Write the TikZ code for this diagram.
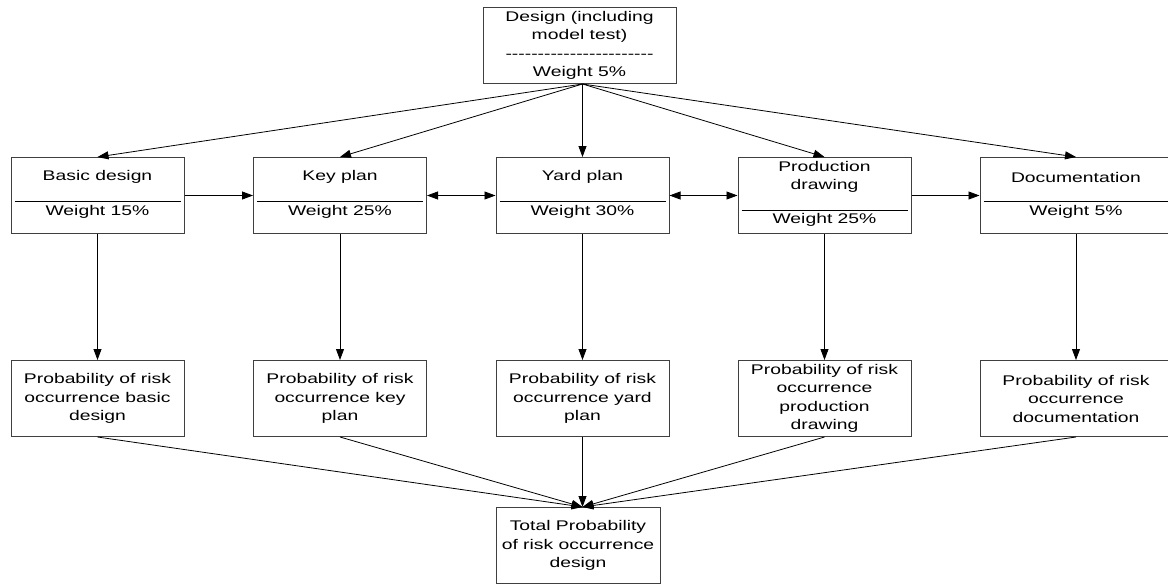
\documentclass[tikz,border=0pt]{standalone}
\usepackage{fontspec}
\setmainfont{Liberation Sans}[FakeStretch=1.38]
\usetikzlibrary{arrows.meta}

\begin{document}
\begin{tikzpicture}[x=1pt,y=-1pt,
        font=\fontsize{14}{18.5}\selectfont,
        >={Triangle[length=11pt,width=8pt]},
        stage/.style={rectangle, draw=black!75, line width=1pt,
                        inner sep=0pt, minimum width=173pt, minimum height=76pt},
        link/.style={->, line width=0.8pt}]
    \useasboundingbox (0,0) rectangle (1168,584);
    % top box
    \node[stage, minimum width=193pt, align=center] (des) at (579.5,45.5)
        {Design (including\\model test)\\-{}-{}-{}-{}-{}-{}-{}-{}-{}-{}-{}-{}-{}-{}-{}-{}-{}-{}-{}-{}-{}-{}-{}\\Weight 5\%};
    % stages with weight
    \foreach \n/\x/\w/\t/\p/\s/\v in {
            bd/97.5/173/{Basic design}/{Weight 15\%}/201/212,
            kp/340/173/{Key plan}/{Weight 25\%}/201/212,
            yp/582.5/173/{Yard plan}/{Weight 30\%}/201/212,
            pd/824.5/173/{Production\\drawing}/{Weight 25\%}/210/220,
            dc/1076/192/{Documentation}/{Weight 5\%}/201/212}{
        \node[stage, minimum width=\w pt] (\n) at (\x,195.5) {};
        \node[align=center, inner sep=0pt] (\n-t) at (\x,177) {\t};
        \node[inner sep=0pt] (\n-w) at (\x,\v) {\p};
        \draw[line width=0.8pt] ([xshift=4pt]\n.west |- 0,\s) -- ([xshift=-4pt]\n.east |- 0,\s);
    }
    % probability boxes
    \node[stage, align=center] (pbd) at (97.5,398.5)
        {Probability of risk\\occurrence basic\\design};
    \node[stage, align=center] (pkp) at (340,398.5)
        {Probability of risk\\occurrence key\\plan};
    \node[stage, align=center] (pyp) at (582.5,398.5)
        {Probability of risk\\occurrence yard\\plan};
    \node[stage, align=center] (ppd) at (824.5,398.5)
        {Probability of risk\\occurrence\\production\\drawing};
    \node[stage, minimum width=192pt, align=center] (pdc) at (1076,398.5)
        {Probability of risk\\occurrence\\documentation};
    \node[stage, minimum width=164pt, align=center] (tot) at (578,545.5)
        {Total Probability\\of risk occurrence\\design};
    \coordinate (hub-top) at (des.south -| yp.north);
    \coordinate (hub-bot) at (tot.north -| pyp.south);
    % connectors
    \foreach \n in {bd,kp,yp,pd,dc}{
        \draw[link] (hub-top) -- (\n.north);
        \draw[link] (\n.south) -- (p\n.north);
        \draw[link] (p\n.south) -- (hub-bot);
    }
    \draw[link] (bd) -- (kp);
    \draw[link,<->] (kp) -- (yp);
    \draw[link,<->] (yp) -- (pd);
    \draw[link] (pd) -- (dc);
\end{tikzpicture}
\end{document}
